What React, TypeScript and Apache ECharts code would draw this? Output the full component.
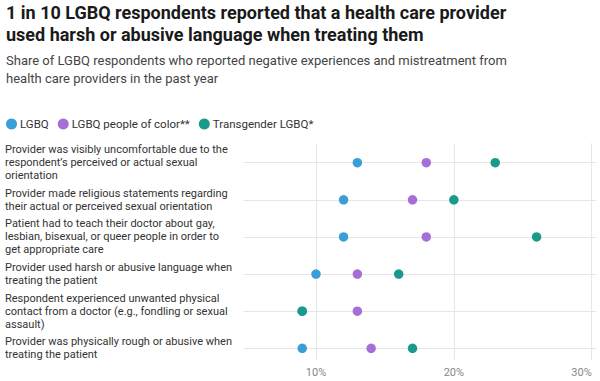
import React, { useEffect, useRef } from "react";
import * as echarts from "echarts";

const categories = [
  "Provider was visibly uncomfortable due to the\nrespondent\u2019s perceived or actual sexual\norientation",
  "Provider made religious statements regarding\ntheir actual or perceived sexual orientation",
  "Patient had to teach their doctor about gay,\nlesbian, bisexual, or queer people in order to\nget appropriate care",
  "Provider used harsh or abusive language when\ntreating the patient",
  "Respondent experienced unwanted physical\ncontact from a doctor (e.g., fondling or sexual\nassault)",
  "Provider was physically rough or abusive when\ntreating the patient",
];

const lgbq = [13, 12, 12, 10, 9, 9];
const lgbqPoc = [18, 17, 18, 13, 13, 14];
const transLgbq = [23, 20, 26, 16, 9, 17];

const seriesNames = ["LGBQ", "LGBQ people of color**", "Transgender LGBQ*"];
const seriesColors = ["#3A9FD9", "#A66FD6", "#1A9A8C"];
const seriesValues = [lgbq, lgbqPoc, transLgbq];

const xTicks = [10, 20, 30];
const rowIdx = [0, 1, 2, 3, 4, 5];

const FONT = "Roboto, 'Noto Sans', sans-serif";

export default function App() {
  const ref = useRef<HTMLDivElement>(null);
  useEffect(() => {
    if (!ref.current) return;
    const chart = echarts.init(ref.current, null, { renderer: "svg" });
    chart.setOption({
      animation: false,
      textStyle: { fontFamily: FONT },
      title: {
        left: 1,
        top: -4,
        text: "1 in 10 LGBQ respondents reported that a health care provider\nused harsh or abusive language when treating them",
        textStyle: { fontSize: 18, fontWeight: "bold", color: "#1a1a1a", lineHeight: 22, fontFamily: FONT },
        subtext: "Share of LGBQ respondents who reported negative experiences and mistreatment from\nhealth care providers in the past year",
        subtextStyle: { fontSize: 13, color: "#444", lineHeight: 18, fontFamily: FONT },
        itemGap: 6,
      },
      legend: {
        left: 1,
        top: 113,
        icon: "circle",
        itemWidth: 11,
        itemHeight: 11,
        itemGap: 9,
        textStyle: { fontSize: 11.5, color: "#333", padding: [0, 0, 0, -2] },
        data: seriesNames,
      },
      grid: {
        left: 243.3,
        right: 4,
        top: 143.3,
        bottom: 21,
        containLabel: false,
        outerBoundsMode: "none",
      },
      xAxis: {
        type: "value",
        min: 4.726,
        max: 30.31,
        axisLine: { show: false },
        axisTick: { show: false, customValues: xTicks },
        axisLabel: {
          customValues: xTicks,
          formatter: (v: number) => `${v}%`,
          color: "#888",
          fontSize: 11,
          margin: 7,
          alignMaxLabel: "right",
        },
        splitLine: { show: true, lineStyle: { color: "#e6e6e6", width: 1 } },
      },
      yAxis: {
        type: "value",
        inverse: true,
        min: -0.523,
        max: 5.315,
        axisLine: { show: false },
        axisTick: { show: false, customValues: rowIdx },
        axisLabel: {
          customValues: rowIdx,
          formatter: (v: number) => categories[Math.round(v)] ?? "",
          align: "left",
          margin: 238.3,
          color: "#333",
          fontSize: 11,
          lineHeight: 13,
        },
        splitLine: { show: true, lineStyle: { color: "#e6e6e6", width: 1 } },
      },
      series: seriesNames.map((name, i) => ({
        name,
        type: "scatter",
        symbol: "circle",
        symbolSize: 9.5,
        itemStyle: { color: seriesColors[i], opacity: 1 },
        z: 2 + i,
        data: seriesValues[i].map((v, r) => [v, r]),
      })),
    });
    return () => chart.dispose();
  }, []);
  return <div ref={ref} style={{ width: 600, height: 381, position: "absolute", left: 0, top: 0 }} />;
}
